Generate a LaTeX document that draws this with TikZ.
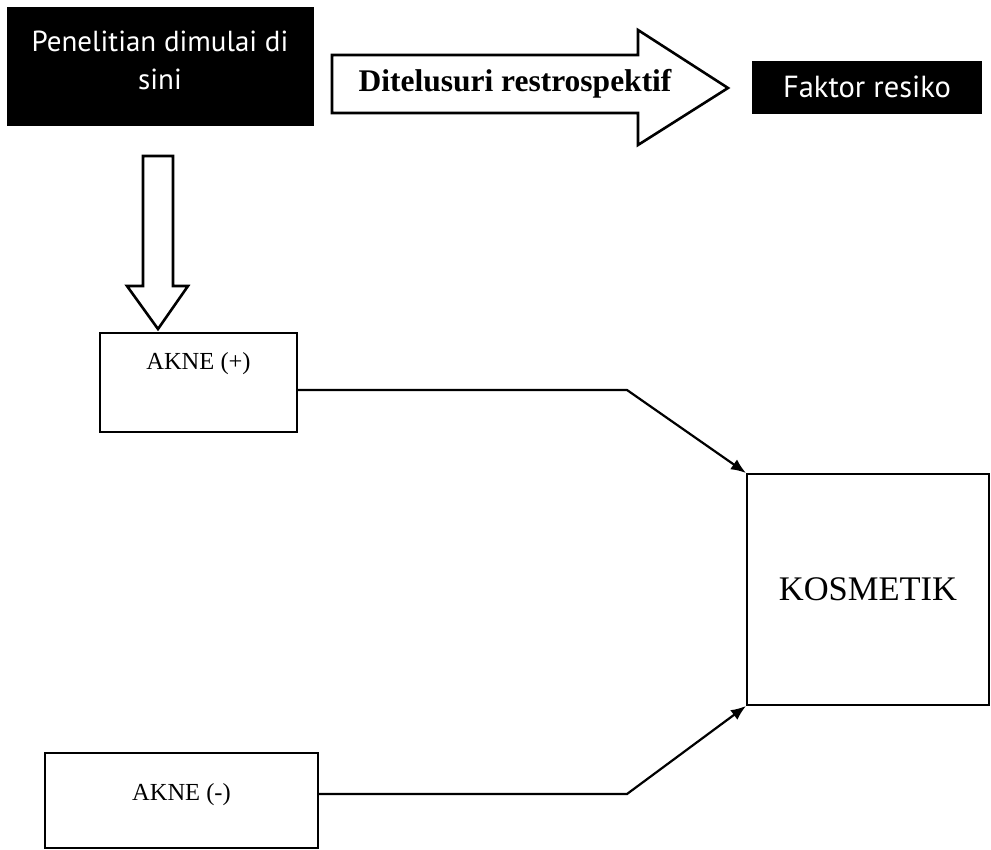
\documentclass[tikz,border=0pt]{standalone}
\usepackage{fontspec}
\setmainfont{Liberation Serif}
\newfontfamily\hsans{PT Sans}
\usetikzlibrary{arrows.meta}
\begin{document}
\begin{tikzpicture}[x=1pt,y=-1pt,
  blackbox/.style={fill=black,draw=black,inner sep=0pt},
  whitebox/.style={draw=black,line width=2pt,fill=white,inner sep=0pt},
  bigarrow/.style={draw=black,line width=2.6pt,fill=white,line join=miter},
  conn/.style={draw=black,line width=2.2pt,-{Latex[length=15pt,width=12pt]}},
  boxtext/.style={font=\fontsize{24.5}{28}\selectfont}
]
\fill[white] (0,0) rectangle (991,850);
\useasboundingbox (0,0) rectangle (991,850);

% black boxes
\node[blackbox,minimum width=306pt,minimum height=118pt,
  label={[text=white,align=center,yshift=6pt,font=\hsans\fontsize{29}{38}\selectfont]center:Penelitian dimulai di\\sini}]
  (start) at (160,66) {};
\node[blackbox,minimum width=229pt,minimum height=52pt,text=white,
  font=\hsans\fontsize{30.5}{34}\selectfont] (faktor) at (867,87) {Faktor resiko};

% big right arrow
\draw[bigarrow] (332,55) -- (638,55) -- (638,30) -- (728,88) -- (638,145) -- (638,113) -- (332,113) -- cycle;
\node[font=\bfseries\fontsize{31.5}{34}\selectfont] (ditelusuri) at (515,84) {Ditelusuri restrospektif};

% big down arrow
\draw[bigarrow] (143,156) -- (173,156) -- (173,286) -- (188,286) -- (158,329) -- (127,286) -- (143,286) -- cycle;

% white boxes
\node[whitebox,minimum width=197pt,minimum height=99pt,
  label={[boxtext,yshift=19pt]center:AKNE (+)}] (ap) at (198.5,382.5) {};
\node[whitebox,minimum width=273pt,minimum height=95pt,
  label={[boxtext,yshift=6pt]center:AKNE (-)}] (am) at (181.5,800.5) {};
\node[whitebox,minimum width=242pt,minimum height=231pt,
  font=\fontsize{34.5}{40}\selectfont] (k) at (868,589.5) {KOSMETIK};

% connectors
\coordinate (b1) at (627,390);
\coordinate (b2) at (627,794);
\draw[conn] ([yshift=-7.5pt]ap.east) -- (b1) -- (k.north west);
\draw[conn] ([yshift=6.5pt]am.east) -- (b2) -- (k.south west);
\end{tikzpicture}
\end{document}
